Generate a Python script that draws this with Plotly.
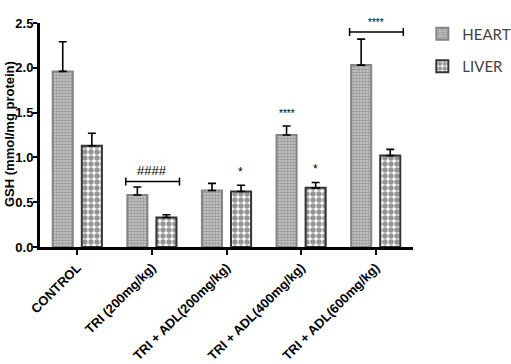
import plotly.graph_objects as go

categories = ["CONTROL", "TRI (200mg/kg)", "TRI + ADL(200mg/kg)",
              "TRI + ADL(400mg/kg)", "TRI + ADL(600mg/kg)"]
heart = [1.96, 0.58, 0.63, 1.25, 2.03]
heart_err = [0.33, 0.09, 0.08, 0.10, 0.29]
liver = [1.13, 0.33, 0.62, 0.66, 1.02]
liver_err = [0.14, 0.03, 0.07, 0.06, 0.07]
y_ticks = [0, 0.5, 1.0, 1.5, 2.0, 2.5]
y_title = "GSH (mmol/mg protein)"

# significance labels above single bars
star_idx = [2, 3, 3]
star_off = [0.19, -0.19, 0.19]
star_y = [0.74, 1.41, 0.77]
star_text = ["*", "****", "*"]
star_size = [12, 10, 12]

# brackets across groups
br_idx = [1, 4]
br_y = [0.73, 2.40]
br_text = ["####", "****"]
br_size = [13, 10]

fig = go.Figure()
fig.add_trace(go.Bar(
    x=categories, y=heart, name="HEART",
    marker=dict(color="white", line=dict(color="#858585", width=2),
                pattern=dict(shape=".", fgcolor="#666666", bgcolor="#cccccc", size=3, solidity=0.55)),
    error_y=dict(type="data", array=heart_err, arrayminus=[0]*5, symmetric=False,
                 color="black", thickness=1.6, width=4),
    legendgroup="h",
))
fig.add_trace(go.Bar(
    x=categories, y=liver, name="LIVER",
    marker=dict(color="white", line=dict(color="#333333", width=2),
                pattern=dict(shape=".", fgcolor="#2a2a2a", bgcolor="white", size=6, solidity=0.62)),
    error_y=dict(type="data", array=liver_err, arrayminus=[0]*5, symmetric=False,
                 color="black", thickness=1.6, width=4),
    legendgroup="l",
))

annotations = []
for i, o, y, t, s in zip(star_idx, star_off, star_y, star_text, star_size):
    annotations.append(dict(x=i + o, y=y, xref="x", yref="y", text=t, showarrow=False,
                            font=dict(family="Liberation Sans, Arial", size=s, color="black"),
                            yanchor="bottom"))
shapes = []
for i, y, t, s in zip(br_idx, br_y, br_text, br_size):
    x0, x1 = i - 0.35, i + 0.37
    shapes.append(dict(type="line", xref="x", yref="y", x0=x0, x1=x1, y0=y, y1=y,
                       line=dict(color="black", width=1.5)))
    for xx in (x0, x1):
        shapes.append(dict(type="line", xref="x", yref="y", x0=xx, x1=xx, y0=y - 0.045, y1=y + 0.045,
                           line=dict(color="black", width=1.5)))
    annotations.append(dict(x=i, y=y + 0.02, xref="x", yref="y", text=t, showarrow=False,
                            font=dict(family="Liberation Sans, Arial", size=s, color="black"),
                            yanchor="bottom"))
# y-axis title as rotated text
annotations.append(dict(x=-0.08, y=0.505, xref="paper", yref="paper", text=y_title,
                        textangle=-90, showarrow=False, xanchor="center", yanchor="middle",
                        font=dict(family="Liberation Sans, Arial", size=13, color="black", weight="bold")))

fig.update_layout(
    width=511, height=364,
    margin=dict(l=40, r=98, t=23, b=117, autoexpand=False),
    paper_bgcolor="white", plot_bgcolor="white",
    barmode="group", bargap=0.22, bargroupgap=0.31,
    showlegend=True,
    legend=dict(x=1.025, y=1.025, xanchor="left", yanchor="top",
                font=dict(family="Lato, Open Sans", size=15, color="#444"),
                traceorder="grouped", tracegroupgap=10, itemwidth=30),
    annotations=annotations, shapes=shapes,
    font=dict(family="Liberation Sans, Arial", color="black"),
)
fig.update_xaxes(
    range=[-0.5, 4.5], showline=True, linecolor="black", linewidth=3,
    ticks="outside", ticklen=5, tickwidth=2, tickcolor="black", automargin=False,
    tickangle=-45, tickfont=dict(family="Liberation Sans, Arial", size=13, color="black", weight="bold"),
    showgrid=False, zeroline=False,
)
fig.update_yaxes(
    range=[0, 2.5], tickvals=y_ticks, tickformat=".1f",
    showline=True, linecolor="black", linewidth=3, automargin=False,
    ticks="outside", ticklen=4, tickwidth=2, tickcolor="black", ticklabelstandoff=-3,
    tickfont=dict(family="Liberation Sans, Arial", size=13, color="black", weight="bold"),
    showgrid=False, zeroline=False,
)

fig.write_html("out.html", config={"displayModeBar": False},
               post_script="document.body.style.margin='0px';")
